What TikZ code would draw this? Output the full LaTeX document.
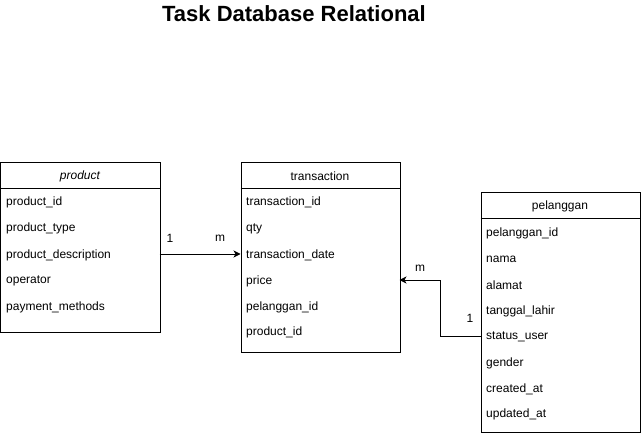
\documentclass[tikz,border=0pt]{standalone}
\usepackage{fontspec}
\setmainfont{Liberation Sans}
\usetikzlibrary{arrows.meta}
\begin{document}
\begin{tikzpicture}[x=1pt,y=-1pt,
  tbl/.style={draw=black,line width=0.8pt,fill=white,minimum width=159pt,inner sep=0pt,anchor=north west},
  hdr/.style={font=\fontsize{12}{14}\selectfont,anchor=center},
  fld/.style={font=\fontsize{12}{14}\selectfont,anchor=west,inner sep=0pt},
  lbl/.style={font=\fontsize{12}{14}\selectfont,anchor=center,inner sep=0pt},
  conn/.style={draw=black,line width=0.8pt,-{Stealth[length=7pt,width=7pt,inset=2pt]}}]
\useasboundingbox (0,0) rectangle (641,433);
\node[font=\bfseries\fontsize{22}{26}\selectfont] (title) at (294,14) {Task Database Relational};
% product
\node[tbl,minimum height=170pt] (product) at (0.5,162) {};
\draw[line width=0.8pt] (0.5,188) -- (159.5,188);
\node[hdr] (productH) at (80,176.5) {\itshape product};
\node[fld] (p1) at (6,202) {product\_id};
\node[fld] (p2) at (6,228.5) {product\_type};
\node[fld] (p3) at (6,255) {product\_description};
\node[fld] (p4) at (6,281) {operator};
\node[fld] (p5) at (6,307) {payment\_methods};
% transaction
\node[tbl,minimum height=190pt] (transaction) at (240.5,162) {};
\draw[line width=0.8pt] (240.5,188) -- (399.5,188);
\node[hdr] (transactionH) at (320,176.5) {transaction};
\node[fld] (t1) at (246,202) {transaction\_id};
\node[fld] (t2) at (246,228.5) {qty};
\node[fld] (t3) at (246,255) {transaction\_date};
\node[fld] (t4) at (246,281) {price};
\node[fld] (t5) at (246,307) {pelanggan\_id};
\node[fld] (t6) at (246,332) {product\_id};
% pelanggan
\node[tbl,minimum height=240pt] (pelanggan) at (480.5,192) {};
\draw[line width=0.8pt] (480.5,218) -- (639.5,218);
\node[hdr] (pelangganH) at (560,206.5) {pelanggan};
\node[fld] (c1) at (486,233) {pelanggan\_id};
\node[fld] (c2) at (486,259) {nama};
\node[fld] (c3) at (486,285) {alamat};
\node[fld] (c4) at (486,311) {tanggal\_lahir};
\node[fld] (c5) at (486,337) {status\_user};
\node[fld] (c6) at (486,363) {gender};
\node[fld] (c7) at (486,389) {created\_at};
\node[fld] (c8) at (486,414) {updated\_at};
% connectors
\coordinate (a1) at (159.5,254);
\coordinate (a2) at (240.5,254);
\draw[conn] (a1) -- (a2);
\node[lbl] (l1) at (170,238.5) {1};
\node[lbl] (l2) at (220,238.5) {m};
\coordinate (b1) at (480.5,336);
\coordinate (b2) at (399.5,280);
\draw[conn] (b1) -- (440,336) -- (440,280) -- (b2);
\node[lbl] (l3) at (420,268.5) {m};
\node[lbl] (l4) at (470,318.5) {1};
\end{tikzpicture}
\end{document}
